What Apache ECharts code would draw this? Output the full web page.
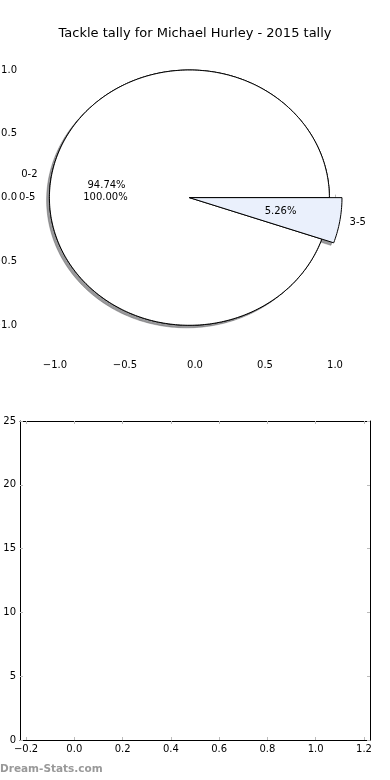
<!DOCTYPE html>
<html>
<head>
<meta charset="utf-8">
<script src="https://cdn.jsdelivr.net/npm/echarts@6/dist/echarts.min.js"></script>
<style>
html,body{margin:0;padding:0;background:#fff;}
#c{width:390px;height:780px;}
</style>
</head>
<body>
<div id="c"></div>
<script>
// ---- data ----
const titleText = 'Tackle tally for Michael Hurley - 2015 tally';
const outerCats = ['0-5'];
const outerVals = [19];
const innerCats = ['0-2', '3-5'];
const innerVals = [18, 1];
const pieTicks = [-1, -0.5, 0, 0.5, 1];
const barXTicks = [-0.2, 0, 0.2, 0.4, 0.6, 0.8, 1.0, 1.2];
const barYTicks = [0, 5, 10, 15, 20, 25];
const watermark = 'Dream-Stats.com';

// ---- style / geometry ----
const FONT = 'DejaVu Sans';
const CENTER = [-0.04, 0];
const outerStyle = { radius: [1.0], fill: ['#ffffff'], shadow: [true], labelR: [1.1], pctR: [0.6] };
const innerStyle = { radius: [1.0, 1.09], fill: ['#ffffff', '#eaf0fc'], shadow: [false, true], labelR: [1.1, 1.16], pctR: [0.6, 0.66] };
const SH = [-0.02, -0.02];

function fmtTick(v) {
  return (Math.abs(v) < 1e-9 ? '0.0' : v.toFixed(1)).replace('-', '\u2212');
}

function arcPoints(api, r, a0, a1, dx, dy, full) {
  const pts = [];
  const n = Math.max(4, Math.ceil(Math.abs(a1 - a0)));
  if (!full) pts.push(api.coord([CENTER[0] + dx, CENTER[1] + dy]));
  for (let k = 0; k <= n; k++) {
    const a = (a0 + (a1 - a0) * k / n) * Math.PI / 180;
    pts.push(api.coord([CENTER[0] + dx + r * Math.cos(a), CENTER[1] + dy + r * Math.sin(a)]));
  }
  return pts;
}

function angles(vals, i) {
  const sum = vals.reduce((s, v) => s + v, 0);
  let cum = 0;
  for (let j = 0; j < i; j++) cum += vals[j];
  return [cum / sum * 360, (cum + vals[i]) / sum * 360, vals[i] / sum * 100];
}

function shapeSeries(cats, vals, st, z) {
  return {
    type: 'custom', coordinateSystem: 'cartesian2d', xAxisIndex: 0, yAxisIndex: 0, z: z,
    silent: true, clip: false,
    data: vals.map((v, i) => ({ name: cats[i], value: [0, 0, v] })),
    renderItem: function (params, api) {
      const i = params.dataIndex;
      const [a0, a1] = angles(vals, i);
      const full = (a1 - a0) >= 359.999;
      const r = st.radius[i];
      const children = [];
      if (st.shadow[i]) {
        children.push({
          type: 'polygon', z2: 1,
          shape: { points: arcPoints(api, r, a0, a1, SH[0], SH[1], full) },
          style: { fill: 'rgba(70,70,72,0.55)', stroke: 'rgba(70,70,72,0.35)', lineWidth: 1 }
        });
      }
      children.push({
        type: 'polygon', z2: 2,
        shape: { points: arcPoints(api, r, a0, a1, 0, 0, full) },
        style: { fill: st.fill[i], stroke: '#000', lineWidth: 1 }
      });
      return { type: 'group', children: children };
    }
  };
}

function labelSeries(cats, vals, st, z) {
  return {
    type: 'custom', coordinateSystem: 'cartesian2d', xAxisIndex: 0, yAxisIndex: 0, z: z,
    silent: true, clip: false,
    data: vals.map((v, i) => ({ name: cats[i], value: [0, 0, v] })),
    renderItem: function (params, api) {
      const i = params.dataIndex;
      const [a0, a1, pct] = angles(vals, i);
      const mid = (a0 + a1) / 2 * Math.PI / 180;
      const c = Math.cos(mid), s = Math.sin(mid);
      const lr = st.labelR[i], pr = st.pctR[i];
      const lp = api.coord([CENTER[0] + lr * c, CENTER[1] + lr * s]);
      const pp = api.coord([CENTER[0] + pr * c, CENTER[1] + pr * s]);
      return {
        type: 'group', children: [
          { type: 'text', x: lp[0], y: lp[1],
            style: { text: cats[i], fill: '#000', font: '10px "' + FONT + '"',
                     align: c > 0 ? 'left' : 'right', verticalAlign: 'middle' } },
          { type: 'text', x: pp[0], y: pp[1],
            style: { text: pct.toFixed(2) + '%', fill: '#000', font: '10px "' + FONT + '"',
                     align: 'center', verticalAlign: 'middle' } }
        ]
      };
    }
  };
}

const tickStyle = { show: true, inside: true, length: 3, lineStyle: { color: '#bbbbbb', width: 1 } };
const labelStyle = { color: '#000', fontFamily: FONT, fontSize: 10 };

const chart = echarts.init(document.getElementById('c'), null, { renderer: 'canvas' });
chart.setOption({
  animation: false,
  backgroundColor: '#fff',
  title: {
    text: titleText, left: 'center', top: 22,
    textStyle: { fontFamily: FONT, fontSize: 13, fontWeight: 'normal', color: '#000' }
  },
  graphic: [{
    type: 'text', left: 0, top: 764,
    style: { text: watermark, fill: '#999999', font: 'bold 10.5px "' + FONT + '"' }
  }],
  grid: [
    { left: 21, top: 40, width: 348, height: 314, containLabel: false, outerBoundsMode: 'none' },
    { left: 20, top: 421, width: 350, height: 319, containLabel: false, outerBoundsMode: 'none' }
  ],
  xAxis: [
    { gridIndex: 0, type: 'value', position: 'bottom', min: -1.243, max: 1.243,
      axisLine: { show: false }, splitLine: { show: false },
      axisTick: Object.assign({ customValues: pieTicks }, tickStyle),
      axisLabel: Object.assign({ customValues: pieTicks, formatter: fmtTick, margin: 6 }, labelStyle) },
    { gridIndex: 0, type: 'value', position: 'top', min: -1.243, max: 1.243,
      axisLine: { show: false }, splitLine: { show: false },
      axisTick: Object.assign({ customValues: pieTicks }, tickStyle),
      axisLabel: { show: false } },
    { gridIndex: 1, type: 'value', position: 'bottom', min: -0.225, max: 1.225,
      axisLine: { show: true, onZero: false, lineStyle: { color: '#000', width: 1 } }, splitLine: { show: false },
      axisTick: Object.assign({ customValues: barXTicks }, tickStyle),
      axisLabel: Object.assign({ customValues: barXTicks, formatter: fmtTick, margin: 4 }, labelStyle) },
    { gridIndex: 1, type: 'value', position: 'top', min: -0.225, max: 1.225,
      axisLine: { show: true, onZero: false, lineStyle: { color: '#000', width: 1 } }, splitLine: { show: false },
      axisTick: Object.assign({ customValues: barXTicks }, tickStyle),
      axisLabel: { show: false } }
  ],
  yAxis: [
    { gridIndex: 0, type: 'value', position: 'left', min: -1.225, max: 1.235,
      axisLine: { show: false }, splitLine: { show: false },
      axisTick: Object.assign({ customValues: pieTicks }, tickStyle),
      axisLabel: Object.assign({ customValues: pieTicks, formatter: fmtTick, margin: 4 }, labelStyle) },
    { gridIndex: 0, type: 'value', position: 'right', min: -1.225, max: 1.235,
      axisLine: { show: false }, splitLine: { show: false },
      axisTick: Object.assign({ customValues: pieTicks }, tickStyle),
      axisLabel: { show: false } },
    { gridIndex: 1, type: 'value', position: 'left', min: 0, max: 25, interval: 5,
      axisLine: { show: true, onZero: false, lineStyle: { color: '#000', width: 1 } }, splitLine: { show: false },
      axisTick: Object.assign({ customValues: barYTicks }, tickStyle),
      axisLabel: Object.assign({ customValues: barYTicks, margin: 4 }, labelStyle) },
    { gridIndex: 1, type: 'value', position: 'right', min: 0, max: 25, interval: 5,
      axisLine: { show: true, onZero: false, lineStyle: { color: '#000', width: 1 } }, splitLine: { show: false },
      axisTick: Object.assign({ customValues: barYTicks }, tickStyle),
      axisLabel: { show: false } }
  ],
  series: [
    shapeSeries(outerCats, outerVals, outerStyle, 2),
    shapeSeries(innerCats, innerVals, innerStyle, 3),
    labelSeries(outerCats, outerVals, outerStyle, 5),
    labelSeries(innerCats, innerVals, innerStyle, 5)
  ]
});
</script>
</body>
</html>
